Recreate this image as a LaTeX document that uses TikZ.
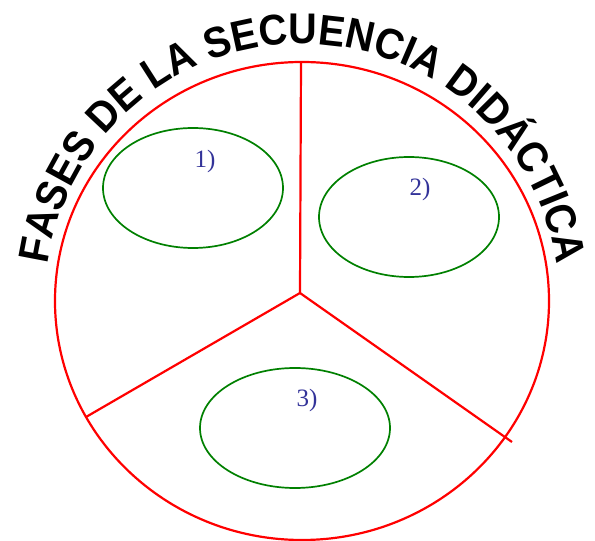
\documentclass[tikz,border=0pt]{standalone}
\usepackage{fontspec}
\setmainfont{Liberation Serif}
\newfontfamily\titlefont[FakeStretch=0.92]{Liberation Sans}
\usetikzlibrary{shapes.geometric,decorations.text}
\definecolor{phaseblue}{HTML}{333399}
\definecolor{phasegreen}{HTML}{008000}

\begin{document}
\begin{tikzpicture}[
        x=1pt, y=1pt,
        rim/.style={draw=red, line width=2.2pt},
        spoke/.style={draw=red, line width=2.2pt},
        phase/.style={draw=phasegreen, ellipse, line width=1.7pt, minimum width=180pt, minimum height=120pt, inner sep=0pt},
        phaselabel/.style={text=phaseblue, font=\fontsize{25}{25}\selectfont}
    ]
    \useasboundingbox (0,0) rectangle (595,541);

    % Outer circle and hub
    \coordinate (centre) at (302,240);
    \draw[rim] (centre) ellipse[x radius=247, y radius=239];
    \coordinate (hub) at (300,248);
    \coordinate (top) at (301,479);
    \coordinate (leftend) at (86,124);
    \coordinate (rightend) at (512,99);

    % Spokes
    \draw[spoke] (hub) -- (top);
    \draw[spoke] (hub) -- (leftend);
    \draw[spoke] (hub) -- (rightend);

    % Phases
    \node[phase] (one) at (193,353) {};
    \node[phase] (two) at (409,324) {};
    \node[phase, minimum width=190pt] (three) at (295,113) {};
    \node[phaselabel] (onelabel) at (205,380) {1)};
    \node[phaselabel] (twolabel) at (420,352) {2)};
    \node[phaselabel] (threelabel) at (307,141) {3)};

    % Title on arc
    \path[decorate, decoration={text along path, text align=center,
        text={|\titlefont\bfseries\fontsize{43}{43}\selectfont|FASES DE LA SECUENCIA DIDÁCTICA}}]
        (centre) ++(171:257) arc[start angle=171, end angle=9, radius=257];

\end{tikzpicture}
\end{document}
